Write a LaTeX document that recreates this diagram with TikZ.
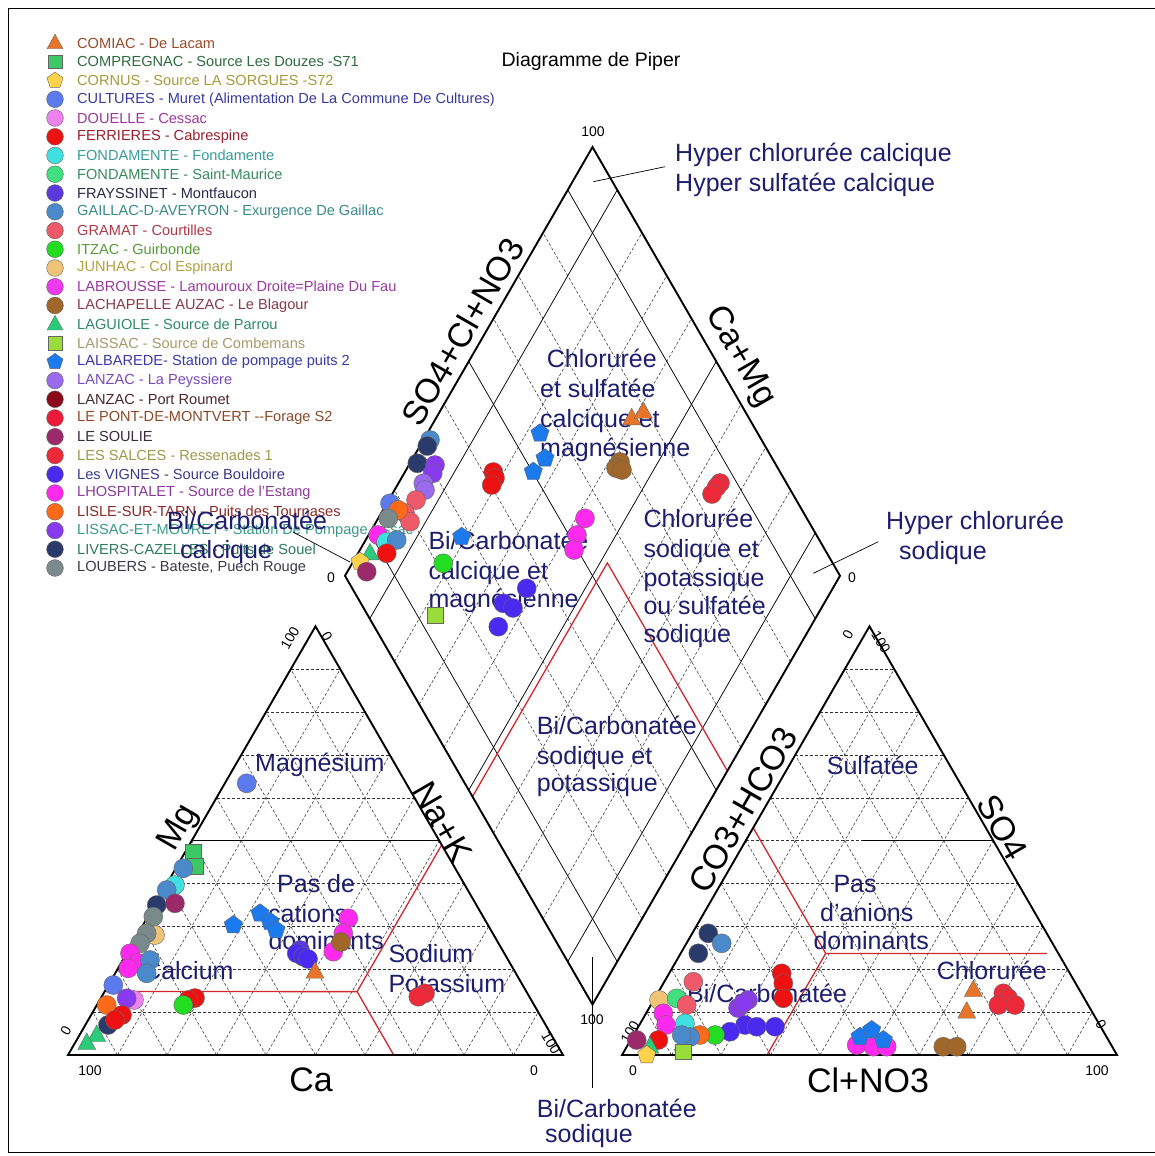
\documentclass[tikz,border=0pt]{standalone}
\usepackage{fontspec}
\setmainfont{Liberation Sans}
\usetikzlibrary{calc}
\definecolor{navy}{HTML}{1E1E6E}
\definecolor{redz}{HTML}{D0282E}
\definecolor{cComiac}{HTML}{E8742A}\definecolor{tComiac}{HTML}{9A4A2A}
\definecolor{cCompreg}{HTML}{3CC864}\definecolor{tCompreg}{HTML}{2F6B3F}
\definecolor{cCornus}{HTML}{FFD24A}\definecolor{tCornus}{HTML}{A89A3A}
\definecolor{cCultures}{HTML}{5A7AEE}\definecolor{tCultures}{HTML}{3A3AA0}
\definecolor{cDouelle}{HTML}{EE82EE}\definecolor{tDouelle}{HTML}{9A3A9A}
\definecolor{cFerr}{HTML}{EE1111}\definecolor{tFerr}{HTML}{9A2030}
\definecolor{cFond}{HTML}{40E0E0}\definecolor{tFond}{HTML}{3A9A9A}
\definecolor{cFondSM}{HTML}{40E080}\definecolor{tFondSM}{HTML}{3A8A60}
\definecolor{cFray}{HTML}{5A3ADD}\definecolor{tFray}{HTML}{2A2A4A}
\definecolor{cGaillac}{HTML}{4A8ACA}\definecolor{tGaillac}{HTML}{3A8A8A}
\definecolor{cGramat}{HTML}{EE5A6A}\definecolor{tGramat}{HTML}{B03A4A}
\definecolor{cItzac}{HTML}{22DD22}\definecolor{tItzac}{HTML}{5A9A3A}
\definecolor{cJunhac}{HTML}{F0C478}\definecolor{tJunhac}{HTML}{B0A040}
\definecolor{cLabr}{HTML}{EE3AEE}\definecolor{tLabr}{HTML}{9A3AA0}
\definecolor{cLachap}{HTML}{A0662A}\definecolor{tLachap}{HTML}{8A3A4A}
\definecolor{cLaguiole}{HTML}{2ACC7A}\definecolor{tLaguiole}{HTML}{2E8A6A}
\definecolor{cLaissac}{HTML}{9ADD3A}\definecolor{tLaissac}{HTML}{A89A6A}
\definecolor{cLalb}{HTML}{1A7AEE}\definecolor{tLalb}{HTML}{3A3AAA}
\definecolor{cLanzacP}{HTML}{9A6AEE}\definecolor{tLanzacP}{HTML}{7A4AC0}
\definecolor{cLanzacR}{HTML}{8A0A1A}\definecolor{tLanzacR}{HTML}{4A2A2A}
\definecolor{cPont}{HTML}{EE1A3A}\definecolor{tPont}{HTML}{8A4A2A}
\definecolor{cSoulie}{HTML}{9A2A6A}\definecolor{tSoulie}{HTML}{3A2A3A}
\definecolor{cSalces}{HTML}{EE2A3A}\definecolor{tSalces}{HTML}{9A9A4A}
\definecolor{cVignes}{HTML}{4A2AEE}\definecolor{tVignes}{HTML}{3A3A8A}
\definecolor{cLhosp}{HTML}{FF2AEE}\definecolor{tLhosp}{HTML}{8A3A9A}
\definecolor{cLisle}{HTML}{FF6A1A}\definecolor{tLisle}{HTML}{8A2A2A}
\definecolor{cLissac}{HTML}{8A3AEE}\definecolor{tLissac}{HTML}{3A9A8A}
\definecolor{cLivers}{HTML}{2A3A6A}\definecolor{tLivers}{HTML}{2E7A5A}
\definecolor{cLoubers}{HTML}{7A8A8A}\definecolor{tLoubers}{HTML}{3A3A4A}
\newcommand\mkC[3]{\filldraw[mk,fill=#1] (#2,#3) circle[radius=9.5pt];}
\newcommand\mkT[3]{\filldraw[mk,fill=#1,shift={(#2,#3)}] (0,-10) -- (9,6.5) -- (-9,6.5) -- cycle;}
\newcommand\mkS[3]{\filldraw[mk,fill=#1,shift={(#2,#3)}] (-7.8,-7.8) rectangle (7.8,7.8);}
\newcommand\mkP[3]{\filldraw[mk,fill=#1,shift={(#2,#3)}] (0,-9.6) -- (9.1,-3) -- (5.6,7.8) -- (-5.6,7.8) -- (-9.1,-3) -- cycle;}
\begin{document}
\begin{tikzpicture}[x=1pt,y=-1pt,
  outl/.style={line width=1.9pt, line join=miter},
  gridln/.style={line width=0.55pt, black!80, dash pattern=on 3pt off 2pt},
  solidln/.style={line width=0.75pt},
  redl/.style={line width=1.3pt, redz},
  mk/.style={draw=black!60, line width=0.4pt},
  lbl/.style={text=navy, font=\fontsize{25}{29}\selectfont, inner sep=0pt, anchor=west, text height=17.5pt, text depth=5pt},
  ax/.style={font=\fontsize{34}{36}\selectfont, inner sep=0pt},
  num/.style={font=\fontsize{14}{16}\selectfont, inner sep=0pt},
  leg/.style={font=\fontsize{14.6}{16}\selectfont, inner sep=0pt, anchor=west},
  conn/.style={line width=0.7pt}]
\useasboundingbox (0,0) rectangle (1155,1156);
\fill[white] (0,0) rectangle (1155,1156);
\draw[line width=0.8pt] (8,8) rectangle (1170,1152);

% geometry
\coordinate (A1) at (68,1055); \coordinate (B1) at (563,1055); \coordinate (C1) at (315.5,626.32);
\coordinate (A2) at (622,1055); \coordinate (B2) at (1117,1055); \coordinate (C2) at (869.5,626.32);
\coordinate (L) at (345,575.8); \coordinate (T) at (592.5,147.1); \coordinate (R) at (840,575.8); \coordinate (D) at (592.5,1004.5);

% triangle grids
\foreach \i in {1,...,9}{
  \draw[gridln] ($(A1)!\i/10!(C1)$) -- ($(B1)!\i/10!(C1)$);
  \draw[gridln] ($(A1)!\i/10!(B1)$) -- ($(C1)!\i/10!(B1)$);
  \draw[gridln] ($(B1)!\i/10!(A1)$) -- ($(C1)!\i/10!(A1)$);
  \draw[gridln] ($(A2)!\i/10!(C2)$) -- ($(B2)!\i/10!(C2)$);
  \draw[gridln] ($(A2)!\i/10!(B2)$) -- ($(C2)!\i/10!(B2)$);
  \draw[gridln] ($(B2)!\i/10!(A2)$) -- ($(C2)!\i/10!(A2)$);
}
% diamond grid
\foreach \i in {2,3,4,6,7,8}{
  \draw[gridln] ($(D)!\i/10!(L)$) -- ($(R)!\i/10!(T)$);
  \draw[gridln] ($(D)!\i/10!(R)$) -- ($(L)!\i/10!(T)$);
}
\foreach \i in {1,5,9}{
  \draw[solidln] ($(D)!\i/10!(L)$) -- ($(R)!\i/10!(T)$);
  \draw[solidln] ($(D)!\i/10!(R)$) -- ($(L)!\i/10!(T)$);
}
\draw[solidln] ($(A1)!0.5!(C1)$) -- ($(B1)!0.5!(C1)$);
\coordinate (h50) at (863.3,840.66);
\draw[solidln] (h50) -- ($(B2)!0.5!(C2)$);

% red classification lines
\coordinate (rl1) at (357.1,991.6); \coordinate (rl2) at (441.7,844.9); \coordinate (rl3) at (393.7,1055);
\draw[redl] ($(A1)!0.148!(C1)$) -- (rl1) -- (rl2);
\draw[redl] (rl1) -- (rl3);
\coordinate (rd1) at (472.5,796.6); \coordinate (rd2) at (607.35,562.9); \coordinate (rd3) at (727.4,770.9);
\draw[redl] (rd1) -- (rd2) -- (rd3);
\coordinate (rr1) at (753.2,827.8); \coordinate (rr2) at (825.7,953.4); \coordinate (rr3) at (1047,953.4); \coordinate (rr4) at (767.0,1055);
\draw[redl] (rr1) -- (rr2) -- (rr3);
\draw[redl] (rr2) -- (rr4);

% outlines
\draw[outl] (A1) -- (B1) -- (C1) -- cycle;
\draw[outl] (A2) -- (B2) -- (C2) -- cycle;
\draw[outl] (L) -- (T) -- (R) -- (D) -- cycle;

% title
\node[font=\fontsize{19.5}{21}\selectfont] (title) at (591,61) {Diagramme de Piper};

% legend
\foreach \m/\c/\tc/\txt [count=\i from 0] in {
 T/cComiac/tComiac/{COMIAC - De Lacam},
 S/cCompreg/tCompreg/{COMPREGNAC - Source Les Douzes -S71},
 P/cCornus/tCornus/{CORNUS - Source LA SORGUES -S72},
 C/cCultures/tCultures/{CULTURES - Muret (Alimentation De La Commune De Cultures)},
 C/cDouelle/tDouelle/{DOUELLE - Cessac},
 C/cFerr/tFerr/{FERRIERES - Cabrespine},
 C/cFond/tFond/{FONDAMENTE - Fondamente},
 C/cFondSM/tFondSM/{FONDAMENTE - Saint-Maurice},
 C/cFray/tFray/{FRAYSSINET - Montfaucon},
 C/cGaillac/tGaillac/{GAILLAC-D-AVEYRON - Exurgence De Gaillac},
 C/cGramat/tGramat/{GRAMAT - Courtilles},
 C/cItzac/tItzac/{ITZAC - Guirbonde},
 C/cJunhac/tJunhac/{JUNHAC - Col Espinard},
 C/cLabr/tLabr/{LABROUSSE - Lamouroux Droite=Plaine Du Fau},
 C/cLachap/tLachap/{LACHAPELLE AUZAC - Le Blagour},
 T/cLaguiole/tLaguiole/{LAGUIOLE - Source de Parrou},
 S/cLaissac/tLaissac/{LAISSAC - Source de Combemans},
 P/cLalb/tLalb/{LALBAREDE- Station de pompage puits 2},
 C/cLanzacP/tLanzacP/{LANZAC - La Peyssiere},
 C/cLanzacR/tLanzacR/{LANZAC - Port Roumet},
 C/cPont/tPont/{LE PONT-DE-MONTVERT -{}-Forage S2},
 C/cSoulie/tSoulie/{LE SOULIE},
 C/cSalces/tSalces/{LES SALCES - Ressenades 1},
 C/cVignes/tVignes/{Les VIGNES - Source Bouldoire},
 C/cLhosp/tLhosp/{LHOSPITALET - Source de l'Estang},
 C/cLisle/tLisle/{LISLE-SUR-TARN - Puits des Tournases},
 C/cLissac/tLissac/{LISSAC-ET-MOURET - Station De Pompage Lissac},
 C/cLivers/tLivers/{LIVERS-CAZELLES - Puits de Souel},
 C/cLoubers/tLoubers/{LOUBERS - Bateste, Puech Rouge}}{
  \pgfmathsetmacro\yy{43+18.75*\i}
  \begin{scope}[shift={(55,\yy)},scale=0.88]
    \csname mk\m\endcsname{\c}{0}{0}
  \end{scope}
  \node[leg,text=\tc] (leg\i) at (77,\yy) {\txt};
}

% numbers
\node[num] (n1) at (593,132) {100};
\node[num] (n2) at (331,578) {0};
\node[num] (n3) at (852,578) {0};
\node[num] (n4) at (592,1020) {100};
\node[num] (n5) at (90,1071) {100};
\node[num] (n6) at (534,1071) {0};
\node[num,rotate=60] (n7) at (290,638) {100};
\node[num,rotate=-60] (n8) at (327,636) {0};
\node[num,rotate=60] (n9) at (66,1031) {0};
\node[num,rotate=-60] (n10) at (551,1043) {100};
\node[num] (n11) at (633,1071) {0};
\node[num] (n12) at (1097,1071) {100};
\node[num,rotate=60] (n13) at (848,635) {0};
\node[num,rotate=-60] (n14) at (881,642) {100};
\node[num,rotate=60] (n15) at (630,1032) {100};
\node[num,rotate=-60] (n16) at (1101,1024) {0};

% axis labels
\node[ax,rotate=60] (axA) at (462.5,331.7) {SO4+Cl+NO3};
\node[ax,rotate=-60] (axB) at (740,356.7) {Ca+Mg};
\node[ax,rotate=60] (axC) at (179,828) {Mg};
\node[ax,rotate=-60] (axD) at (442.5,822) {Na+K};
\node[ax] (axE) at (311,1080) {Ca};
\node[ax,rotate=60] (axF) at (743,810) {CO3+HCO3};
\node[ax,rotate=-60] (axG) at (1002.5,827.5) {SO4};
\node[ax] (axH) at (868,1080) {Cl+NO3};

% region labels
\node[lbl] (z1a) at (675,155) {Hyper chlorurée calcique};
\node[lbl] (z1b) at (675,185) {Hyper sulfatée calcique};
\node[lbl] (z2a) at (886,523) {Hyper chlorurée};
\node[lbl] (z2b) at (899,553) {sodique};
\node[lbl] (z3a) at (167,523) {Bi/Carbonatée};
\node[lbl] (z3b) at (180,552) {calcique};
\node[lbl] (z4a) at (546.7,361.7) {Chlorurée};
\node[lbl] (z4b) at (540,391.7) {et sulfatée};
\node[lbl] (z4c) at (540,421.7) {calcique et};
\node[lbl] (z4d) at (540,450) {magnésienne};
\node[lbl] (z5a) at (428.3,543.3) {Bi/Carbonatée};
\node[lbl] (z5b) at (428.3,573.3) {calcique et};
\node[lbl] (z5c) at (428.3,601.7) {magnésienne};
\node[lbl] (z6a) at (643.3,521.7) {Chlorurée};
\node[lbl] (z6b) at (643.3,551.7) {sodique et};
\node[lbl] (z6c) at (643.3,580) {potassique};
\node[lbl] (z6d) at (643.3,608.3) {ou sulfatée};
\node[lbl] (z6e) at (643.3,636.7) {sodique};
\node[lbl] (z7a) at (536.7,728.3) {Bi/Carbonatée};
\node[lbl] (z7b) at (536.7,758.3) {sodique et};
\node[lbl] (z7c) at (536.7,785) {potassique};
\node[lbl] (z8a) at (536.7,1111.7) {Bi/Carbonatée};
\node[lbl] (z8b) at (545,1136.7) {sodique};
\node[lbl] (z9) at (255,765) {Magnésium};
\node[lbl] (z10a) at (277,886) {Pas de};
\node[lbl] (z10b) at (268,916) {cations};
\node[lbl] (z10c) at (268.3,943.3) {dominants};
\node[lbl] (z11) at (143,973) {Calcium};
\node[lbl] (z12a) at (388.3,956.7) {Sodium};
\node[lbl] (z12b) at (388.3,986.7) {Potassium};
\node[lbl] (z13) at (826.7,768.3) {Sulfatée};
\node[lbl] (z14a) at (833.3,886.7) {Pas};
\node[lbl] (z14b) at (820,915) {d'anions};
\node[lbl] (z14c) at (813.3,943.3) {dominants};
\node[lbl] (z15) at (936.7,973.3) {Chlorurée};
\node[lbl] (z16) at (687,996) {Bi/Carbonatée};

% connectors
\coordinate (k1a) at (593.3,181.7); \coordinate (k1b) at (665,166.7);
\coordinate (k2a) at (813.3,573.3); \coordinate (k2b) at (878.3,541.7);
\coordinate (k3a) at (293,532); \coordinate (k3b) at (350,562);
\coordinate (k4a) at (592.5,957); \coordinate (k4b) at (592.5,1088);
\draw[conn] (k1a) -- (k1b);
\draw[conn] (k2a) -- (k2b);
\draw[conn] (k3a) -- (k3b);
\draw[conn] (k4a) -- (k4b);

% ---------- diamond points ----------
\mkC{cGaillac}{430}{440}
\foreach \x/\y in {427.3/446,417.3/463.3}{\mkC{cLivers}{\x}{\y}}
\foreach \x/\y in {435/465,432.7/473.3}{\mkC{cLissac}{\x}{\y}}
\foreach \x/\y in {423.3/483.3,425/490}{\mkC{cLanzacP}{\x}{\y}}
\foreach \x/\y in {416/500,405/513,410/521.7}{\mkC{cGramat}{\x}{\y}}
\mkC{cCultures}{390}{503.3}
\mkC{cLisle}{398.3}{510}
\mkC{cLoubers}{388.3}{518.3}
\mkC{cLhosp}{378}{535}
\mkC{cFond}{386}{542}
\mkC{cGaillac}{396.7}{540}
\mkT{cLaguiole}{370}{553.3}
\mkC{cFerr}{386.7}{553.3}
\mkP{cCornus}{360}{561.7}
\mkC{cSoulie}{366.7}{571.7}
\foreach \x/\y in {540/433.3,545/458.3,533.3/471.7,461.7/536.7}{\mkP{cLalb}{\x}{\y}}
\mkT{cComiac}{631.7}{418.3}
\mkT{cComiac}{643.3}{411.7}
\foreach \x/\y in {620/462,616/468,622/470}{\mkC{cLachap}{\x}{\y}}
\foreach \x/\y in {493.3/472,495/478,491.7/485}{\mkC{cFerr}{\x}{\y}}
\foreach \x/\y in {720/483,716.7/487,712/494}{\mkC{cSalces}{\x}{\y}}
\foreach \x/\y in {585/518.3,577/535,574/550}{\mkC{cLhosp}{\x}{\y}}
\mkC{cItzac}{443.3}{563.3}
\foreach \x/\y in {526.7/588.3,503.3/603.3,513/608,498.3/626.7}{\mkC{cVignes}{\x}{\y}}
\mkS{cLaissac}{435}{615}

% ---------- left triangle points ----------
\mkC{cCultures}{246.7}{783.3}
\mkS{cCompreg}{193.3}{852}
\mkS{cCompreg}{195}{866}
\mkC{cGaillac}{183.3}{868.3}
\mkC{cFond}{175}{885}
\mkC{cGaillac}{166.7}{890}
\mkC{cSoulie}{175}{903.3}
\mkC{cLivers}{156.7}{905}
\mkC{cJunhac}{155}{935}
\foreach \x/\y in {153.3/916.7,146.7/933.3,140/943.3}{\mkC{cLoubers}{\x}{\y}}
\foreach \x/\y in {130/953.3,138/963,128.3/968.3}{\mkC{cLhosp}{\x}{\y}}
\foreach \x/\y in {150/960,146.7/973.3}{\mkC{cGaillac}{\x}{\y}}
\mkC{cCultures}{113.3}{985}
\mkC{cDouelle}{134}{1000}
\mkC{cLissac}{126.7}{998.3}
\mkC{cLisle}{106.7}{1005}
\mkC{cLivers}{108}{1025}
\mkC{cFerr}{122}{1015}
\mkC{cFerr}{115}{1020}
\mkT{cLaguiole}{96.7}{1035}
\mkT{cLaguiole}{86.7}{1043}
\mkC{cFerr}{195}{998}
\mkC{cFerr}{188.3}{1000}
\mkC{cItzac}{183.3}{1005}
\foreach \x/\y in {233.3/925,260/913.3,270/921.7,276/930}{\mkP{cLalb}{\x}{\y}}
\mkC{cFray}{300}{950}
\foreach \x/\y in {296.7/953.3,303.3/956.7,308/959}{\mkC{cVignes}{\x}{\y}}
\foreach \x/\y in {348.3/918.3,343.3/933.3,333.3/951.7}{\mkC{cLhosp}{\x}{\y}}
\mkC{cLachap}{341}{942}
\mkT{cComiac}{315}{971.7}
\mkC{cSalces}{425}{993.3}
\mkC{cSalces}{418.3}{996.7}

% ---------- right triangle points ----------
\mkC{cLivers}{708.3}{933.3}
\mkC{cGaillac}{721.7}{943.3}
\mkC{cLivers}{698.3}{953.3}
\foreach \x/\y in {781.7/973.3,783.3/983.3,783.3/998.3}{\mkC{cFerr}{\x}{\y}}
\mkC{cGramat}{693.3}{981.7}
\mkC{cJunhac}{659}{1000}
\mkC{cFondSM}{676.7}{998.3}
\mkC{cGramat}{686.7}{1005}
\foreach \x/\y in {738/1008,748/1000,743.3/1003.3}{\mkC{cLissac}{\x}{\y}}
\foreach \x/\y in {745/1025,730/1031.7,756.7/1026.7,775/1026.7}{\mkC{cVignes}{\x}{\y}}
\mkC{cLhosp}{663.3}{1013.3}
\mkC{cLhosp}{666}{1025}
\mkC{cFond}{685}{1023.3}
\mkC{cItzac}{715}{1035}
\mkC{cLisle}{700}{1035}
\mkC{cGaillac}{690}{1037}
\mkC{cGaillac}{681.7}{1035}
\mkC{cSoulie}{636.7}{1040}
\mkC{cFerr}{658.3}{1040}
\mkT{cLaguiole}{650}{1046.7}
\mkP{cCornus}{646.7}{1055}
\mkS{cLaissac}{683.3}{1051.7}
\foreach \x/\y in {856.7/1045,873.3/1046.7,886.7/1046.7}{\mkC{cLhosp}{\x}{\y}}
\foreach \x/\y in {860/1036.7,871.7/1030,883.3/1040}{\mkP{cLalb}{\x}{\y}}
\mkC{cLachap}{943.3}{1046.7}
\mkC{cLachap}{956.7}{1046.7}
\mkT{cComiac}{973.3}{990}
\mkT{cComiac}{966.7}{1011.7}
\foreach \x/\y in {1003.3/993.3,1008/998,998.3/1005,1015/1005}{\mkC{cSalces}{\x}{\y}}
\end{tikzpicture}
\end{document}
